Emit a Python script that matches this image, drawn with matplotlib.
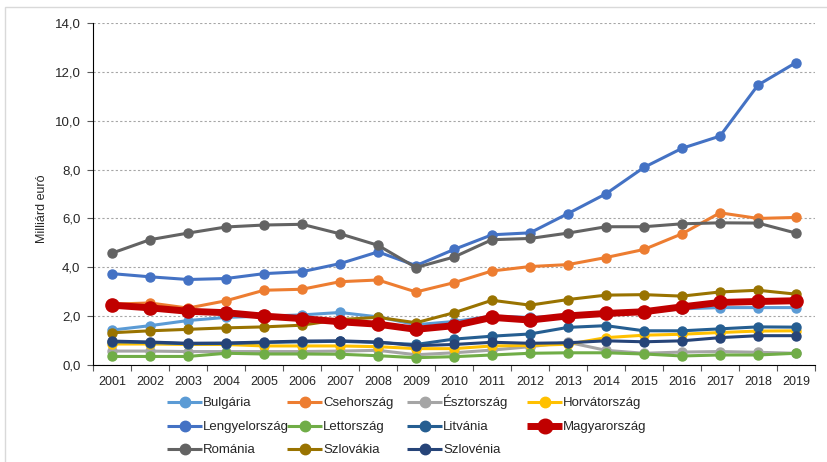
import matplotlib
matplotlib.use("Agg")
import matplotlib.pyplot as plt

years = list(range(2001, 2020))

bulgaria = [1.43, 1.61, 1.82, 1.95, 2.00, 2.05, 2.15, 1.97, 1.65, 1.78, 2.00, 1.95, 2.00, 2.10, 2.15, 2.30, 2.35, 2.35, 2.35]
csehorszag = [2.49, 2.54, 2.33, 2.63, 3.06, 3.10, 3.41, 3.48, 2.99, 3.37, 3.85, 4.03, 4.11, 4.40, 4.73, 5.37, 6.23, 6.00, 6.04]
esztorszag = [0.57, 0.57, 0.55, 0.55, 0.55, 0.55, 0.57, 0.60, 0.42, 0.50, 0.61, 0.75, 0.93, 0.60, 0.48, 0.53, 0.55, 0.52, 0.48]
horvatorszag = [0.86, 0.86, 0.84, 0.84, 0.78, 0.78, 0.78, 0.75, 0.67, 0.67, 0.78, 0.80, 0.85, 1.12, 1.22, 1.26, 1.33, 1.39, 1.40]
lengyelorszag = [3.74, 3.61, 3.50, 3.54, 3.74, 3.82, 4.15, 4.63, 4.07, 4.73, 5.33, 5.41, 6.20, 7.01, 8.09, 8.87, 9.37, 11.46, 12.38]
lettorszag = [0.35, 0.35, 0.35, 0.48, 0.45, 0.45, 0.44, 0.38, 0.30, 0.34, 0.41, 0.48, 0.50, 0.50, 0.45, 0.37, 0.41, 0.41, 0.48]
litvania = [0.95, 0.92, 0.87, 0.88, 0.92, 0.95, 0.97, 0.92, 0.84, 1.06, 1.18, 1.27, 1.54, 1.61, 1.40, 1.40, 1.48, 1.56, 1.55]
magyarorszag = [2.45, 2.34, 2.20, 2.14, 2.00, 1.90, 1.77, 1.67, 1.46, 1.61, 1.95, 1.84, 2.01, 2.11, 2.18, 2.38, 2.56, 2.60, 2.63]
romania = [4.58, 5.13, 5.40, 5.65, 5.73, 5.76, 5.37, 4.90, 3.99, 4.42, 5.13, 5.18, 5.40, 5.66, 5.66, 5.78, 5.82, 5.81, 5.40]
szlovakia = [1.32, 1.40, 1.46, 1.52, 1.56, 1.63, 1.86, 1.95, 1.73, 2.14, 2.65, 2.45, 2.68, 2.86, 2.88, 2.82, 2.99, 3.06, 2.90]
szlovenia = [0.98, 0.94, 0.89, 0.90, 0.94, 0.98, 0.99, 0.94, 0.79, 0.84, 0.93, 0.89, 0.91, 0.99, 0.95, 0.99, 1.12, 1.20, 1.20]

names = ["Bulgária", "Csehország", "Észtország", "Horvátország", "Lengyelország", "Lettország",
         "Litvánia", "Magyarország", "Románia", "Szlovákia", "Szlovénia"]
series = [bulgaria, csehorszag, esztorszag, horvatorszag, lengyelorszag, lettorszag,
          litvania, magyarorszag, romania, szlovakia, szlovenia]
colors = ["#5B9BD5", "#ED7D31", "#A5A5A5", "#FFC000", "#4472C4", "#70AD47",
          "#255E91", "#C00000", "#636363", "#997300", "#264478"]

yticks = [0, 2, 4, 6, 8, 10, 12, 14]
ylabels = ["0,0", "2,0", "4,0", "6,0", "8,0", "10,0", "12,0", "14,0"]

plt.rcParams['font.family'] = ['Liberation Sans', 'DejaVu Sans']

fig = plt.figure(figsize=(8.27, 4.62), dpi=100)
W, H = 827, 462
ax = fig.add_axes([93 / W, (H - 365) / H, (815 - 93) / W, (365 - 23) / H])

# figure border (light gray, top and left visible)
fig.add_artist(plt.Rectangle((5 / W, -0.1), 1.2, (H - 7) / H + 0.1, transform=fig.transFigure,
                             fill=False, edgecolor="#D9D9D9", linewidth=1.0))

styles = {}
order_draw = [0, 1, 2, 3, 4, 5, 6, 8, 9, 10, 7]
for i in order_draw:
    big = names[i] == "Magyarország"
    lw = 5.0 if big else 2.2
    ms = 9.5 if big else 6.5
    styles[i] = (lw, ms)
    ax.plot(years, series[i], color=colors[i], linewidth=lw, marker="o",
            markersize=ms, solid_capstyle="round", zorder=4 if big else 3)

ax.set_xlim(2000.5, 2019.5)
ax.set_ylim(0, 14)
ax.set_yticks(yticks)
ax.set_yticklabels(ylabels)
ax.set_xticks(years)
ax.set_xticklabels([str(y) for y in years])
ax.set_xticks([y + 0.5 for y in range(2000, 2020)], minor=True)
ax.tick_params(axis="x", which="major", length=0, pad=8, labelsize=9)
ax.tick_params(axis="x", which="minor", length=4, width=0.8, color="#595959", direction="out")
ax.tick_params(axis="y", length=4, width=0.8, color="#595959", labelsize=9.5, pad=5)
for lab in ax.get_xticklabels() + ax.get_yticklabels():
    lab.set_color("#262626")

ax.grid(axis="y", linestyle=(0, (2, 2)), color="#A6A6A6", linewidth=0.8)
ax.set_axisbelow(True)
for s in ["top", "right"]:
    ax.spines[s].set_visible(False)
ax.spines["left"].set_color("black")
ax.spines["bottom"].set_color("black")

ax.set_ylabel("Milliárd euró", fontsize=9, color="#262626")
ax.yaxis.set_label_coords(-(93 - 48) / (815 - 93), 0.5 - 15 / 342)

# legend area: an invisible axes in pixel units (x right, y downward)
lax = fig.add_axes([0, 0, 1, (H - 380) / H])
lax.set_xlim(0, W)
lax.set_ylim(H, 380)
lax.axis("off")
col_x = [167, 287, 407, 527]
row_y = [402, 426, 449]
for k in range(len(names)):
    r, c = divmod(k, 4)
    x0, y0 = col_x[c], row_y[r]
    lw, ms = styles[k]
    lax.plot([x0, x0 + 17.5, x0 + 35], [y0, y0, y0], color=colors[k], linewidth=lw,
             solid_capstyle="butt", marker="o", markersize=ms + 1.0, markevery=[1],
             markeredgecolor=colors[k], markerfacecolor=colors[k], zorder=3)
    lax.text(x0 + 36, y0 + 4, names[k], fontsize=9.5, color="#262626",
             ha="left", va="baseline")

fig.savefig("out.png", dpi=100)
